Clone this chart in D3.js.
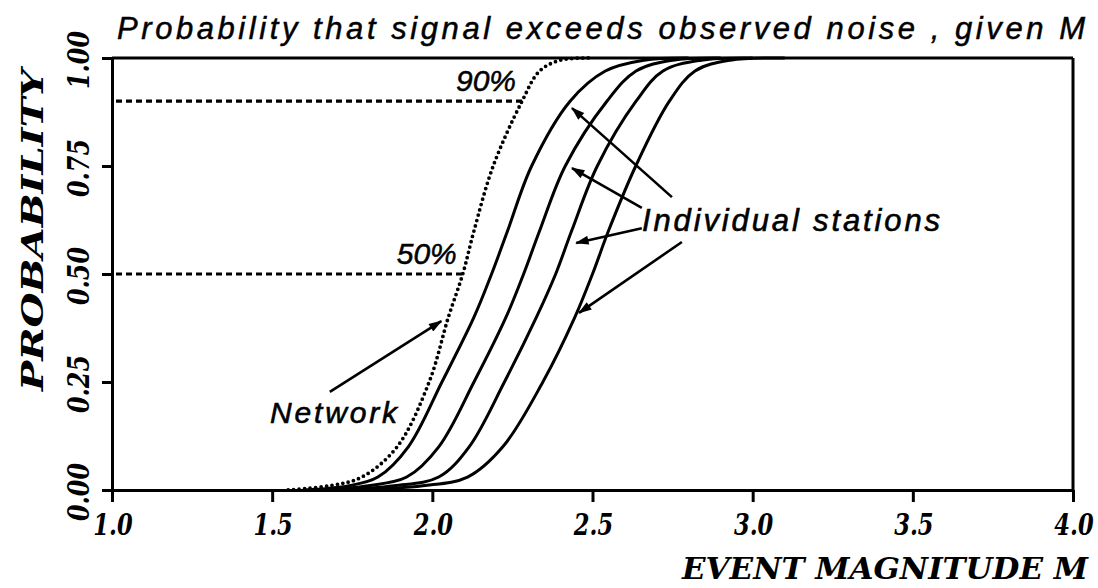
<!DOCTYPE html>
<html><head><meta charset="utf-8">
<script src="https://cdn.jsdelivr.net/npm/d3@7"></script>
<style>body{margin:0;background:#fff} svg{display:block}</style>
</head><body><svg id="c" width="1098" height="588"></svg>
<script>
// ---- data ----
const probLevels = [0, 0.01, 0.03, 0.10, 0.25, 0.40, 0.50, 0.60, 0.75, 0.90, 0.97, 0.995, 1.0];
const networkM  = [1.55, 1.68, 1.78, 1.89, 1.99, 2.05, 2.095, 2.13, 2.19, 2.28, 2.335, 2.40, 2.50];
const station1M = [1.60, 1.74, 1.83, 1.925, 2.03, 2.13, 2.185, 2.235, 2.31, 2.43, 2.54, 2.66, 2.80];
const station2M = [1.65, 1.80, 1.92, 2.02, 2.13, 2.23, 2.285, 2.335, 2.415, 2.545, 2.636, 2.75, 2.90];
const station3M = [1.70, 1.88, 2.02, 2.115, 2.225, 2.325, 2.385, 2.435, 2.515, 2.636, 2.72, 2.84, 3.00];
const station4M = [1.75, 1.97, 2.11, 2.22, 2.345, 2.445, 2.50, 2.55, 2.635, 2.74, 2.82, 2.93, 3.10];
const stationSeries = [station1M, station2M, station3M, station4M];

const xTicks = [1.0, 1.5, 2.0, 2.5, 3.0, 3.5, 4.0];
const xTickLabels = ["1.0", "1.5", "2.0", "2.5", "3.0", "3.5", "4.0"];
const yTicks = [0, 0.25, 0.5, 0.75, 1.0];
const yTickLabels = ["0.00", "0.25", "0.50", "0.75", "1.00"];
const levelMarks = [0.5, 0.9];
const levelLabels = ["50%", "90%"];

const titleText = "Probability that signal exceeds observed noise , given M";
const xTitle = "EVENT MAGNITUDE M";
const yTitle = "PROBABILITY";
const networkLabel = "Network";
const stationLabel = "Individual stations";
// arrow annotations in data units: [fromM, fromP, toM, toP]
const networkArrow = [1.68, 0.227, 2.028, 0.391];
const stationArrows = [
  [2.748, 0.678, 2.436, 0.884],
  [2.654, 0.653, 2.436, 0.745],
  [2.654, 0.606, 2.449, 0.572],
  [2.779, 0.574, 2.458, 0.410]
];

// ---- drawing ----
const svg = d3.select("#c");
const L = 112, R = 1073, T = 58, B = 490;
const x = d3.scaleLinear().domain([1, 4]).range([L, R]);
const y = d3.scaleLinear().domain([0, 1]).range([B, T]);
const serif = "'DejaVu Serif', serif";
const sans = "'Liberation Sans', Arial, sans-serif";

svg.append("defs").append("marker")
  .attr("id", "ah").attr("viewBox", "0 0 12 8").attr("refX", 11).attr("refY", 4)
  .attr("markerWidth", 15).attr("markerHeight", 9).attr("markerUnits", "userSpaceOnUse")
  .attr("orient", "auto")
  .append("path").attr("d", "M0,0 L12,4 L0,8 Z").attr("fill", "#000");

// axes
const gx = svg.append("g").attr("transform", `translate(0,${B})`)
  .call(d3.axisBottom(x).tickValues(xTicks).tickSize(12).tickSizeOuter(0).tickFormat(""));
const gy = svg.append("g").attr("transform", `translate(${L},0)`)
  .call(d3.axisLeft(y).tickValues(yTicks).tickSize(10).tickSizeOuter(0).tickFormat(""));
[gx, gy].forEach(g => {
  g.selectAll("path,line").attr("stroke", "#000").attr("stroke-width", 3);
});
// frame top and right
svg.append("line").attr("x1", L).attr("x2", R).attr("y1", T).attr("y2", T)
  .attr("stroke", "#000").attr("stroke-width", 3);
svg.append("line").attr("x1", R).attr("x2", R).attr("y1", T).attr("y2", B)
  .attr("stroke", "#000").attr("stroke-width", 3);

// tick labels
svg.append("g").selectAll("text").data(xTicks).join("text")
  .attr("transform", d => `translate(${x(d) + 1},${B + 45}) scale(0.78,1)`)
  .attr("text-anchor", "middle")
  .attr("font-family", serif).attr("font-weight", "bold").attr("font-style", "italic")
  .attr("font-size", 29)
  .text((d, i) => xTickLabels[i]);
svg.append("g").selectAll("text").data(yTicks).join("text")
  .attr("transform", d => `translate(89,${y(d) + 2}) rotate(-90) scale(0.82,1)`)
  .attr("text-anchor", "middle")
  .attr("font-family", serif).attr("font-weight", "bold").attr("font-style", "italic")
  .attr("font-size", 29)
  .text((d, i) => yTickLabels[i]);

// axis titles
svg.append("text").attr("x", 682).attr("y", 579)
  .attr("font-family", serif).attr("font-weight", "bold").attr("font-style", "italic")
  .attr("font-size", 30).attr("textLength", 406).attr("lengthAdjust", "spacingAndGlyphs")
  .text(xTitle);
svg.append("text").attr("transform", `translate(43,${(68 + 392) / 2}) rotate(-90)`)
  .attr("text-anchor", "middle")
  .attr("font-family", serif).attr("font-weight", "bold").attr("font-style", "italic")
  .attr("font-size", 30).attr("textLength", 322).attr("lengthAdjust", "spacingAndGlyphs")
  .text(yTitle);
// title
svg.append("text").attr("x", 117).attr("y", 39)
  .attr("font-family", sans).attr("font-style", "italic").attr("font-size", 31)
  .attr("stroke", "#000").attr("stroke-width", 0.5)
  .attr("textLength", 968).attr("lengthAdjust", "spacing")
  .text(titleText);

// curves
const line = d3.line().x(d => x(d[0])).y(d => y(d[1])).curve(d3.curveCatmullRom.alpha(0.5));
stationSeries.forEach(ms => {
  svg.append("path").datum(ms.map((m, i) => [m, probLevels[i]]))
    .attr("d", line).attr("fill", "none").attr("stroke", "#000").attr("stroke-width", 3);
});
svg.append("path").datum(networkM.map((m, i) => [m, probLevels[i]]))
  .attr("d", line).attr("fill", "none").attr("stroke", "#000").attr("stroke-width", 3.8)
  .attr("stroke-linecap", "round").attr("stroke-dasharray", "0 5.5");

// level dashed lines
const invNet = d3.scaleLinear().domain(probLevels).range(networkM);
levelMarks.forEach((p, i) => {
  const xe = x(invNet(p));
  svg.append("line").attr("x1", L + 4).attr("x2", xe).attr("y1", y(p)).attr("y2", y(p))
    .attr("stroke", "#000").attr("stroke-width", 3.2).attr("stroke-dasharray", "6 4");
  svg.append("text").attr("x", xe - 6).attr("y", y(p) - 10).attr("text-anchor", "end")
    .attr("font-family", sans).attr("font-style", "italic").attr("font-size", 30)
    .attr("stroke", "#000").attr("stroke-width", 0.5)
    .text(levelLabels[i]);
});

// annotations
svg.append("text").attr("x", 270).attr("y", 423)
  .attr("font-family", sans).attr("font-style", "italic").attr("font-size", 30)
  .attr("stroke", "#000").attr("stroke-width", 0.6)
  .attr("textLength", 127).attr("lengthAdjust", "spacing").text(networkLabel);
svg.append("text").attr("x", 642).attr("y", 231)
  .attr("font-family", sans).attr("font-style", "italic").attr("font-size", 31)
  .attr("stroke", "#000").attr("stroke-width", 0.6)
  .attr("textLength", 298).attr("lengthAdjust", "spacing").text(stationLabel);
[networkArrow, ...stationArrows].forEach(a => {
  svg.append("line").attr("x1", x(a[0])).attr("y1", y(a[1])).attr("x2", x(a[2])).attr("y2", y(a[3]))
    .attr("stroke", "#000").attr("stroke-width", 2.6).attr("marker-end", "url(#ah)");
});
</script></body></html>
